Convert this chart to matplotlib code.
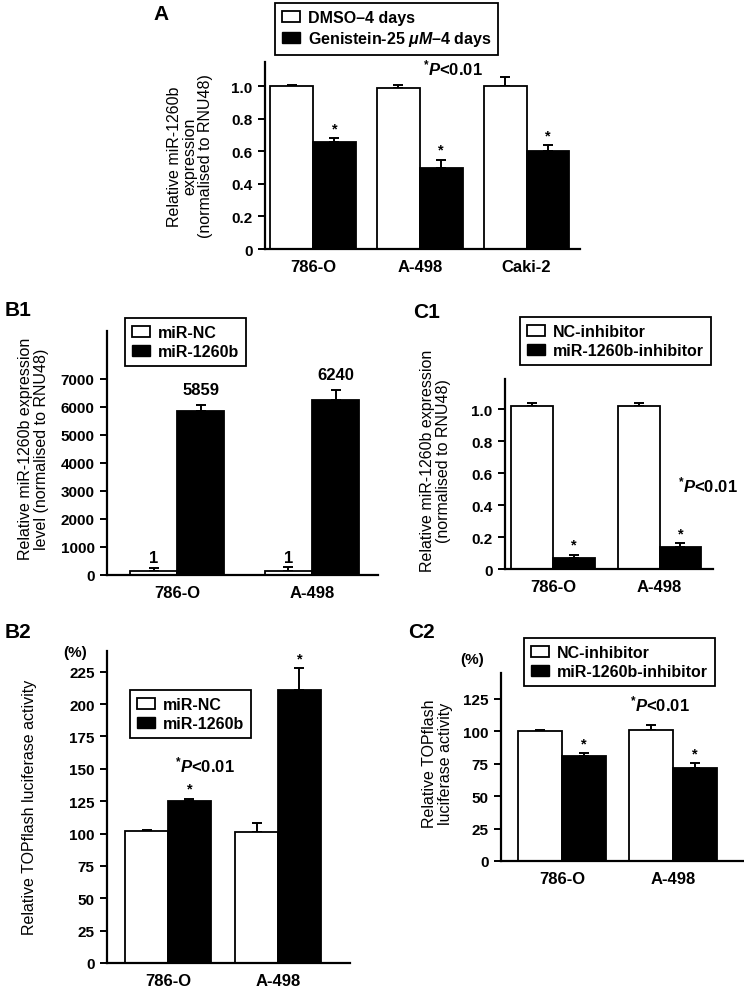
import matplotlib
matplotlib.use('Agg')
import matplotlib.pyplot as plt
import numpy as np
from matplotlib.patches import Patch

plt.rcParams['font.family'] = ['Liberation Sans', 'DejaVu Sans']
plt.rcParams['mathtext.fontset'] = 'custom'
plt.rcParams['mathtext.rm'] = 'Liberation Sans:bold'
plt.rcParams['mathtext.it'] = 'Liberation Sans:italic:bold'
plt.rcParams['font.size'] = 10

# ---- data ----
cells3 = ['786-O', 'A-498', 'Caki-2']
cells2 = ['786-O', 'A-498']

a_dmso = [1.00, 0.99, 1.00]
a_dmso_err = [0.01, 0.02, 0.06]
a_gen = [0.66, 0.50, 0.60]
a_gen_err = [0.02, 0.05, 0.04]

b1_nc = [130, 130]
b1_nc_err = [130, 140]
b1_mir = [5859, 6240]
b1_mir_err = [190, 350]
b1_nc_labels = ['1', '1']
b1_mir_labels = ['5859', '6240']

c1_nc = [1.02, 1.02]
c1_nc_err = [0.02, 0.02]
c1_inh = [0.07, 0.14]
c1_inh_err = [0.02, 0.02]

b2_nc = [102, 101]
b2_nc_err = [1, 7]
b2_mir = [125, 211]
b2_mir_err = [2, 17]

c2_nc = [100, 101]
c2_nc_err = [1, 4]
c2_inh = [81, 72]
c2_inh_err = [2, 3.5]

W, H = 744, 987
YTICK_FS = 11
XTICK_FS = 12
LAB_FS = 11.5
LEG_FS = 11.5
P_FS = 12


def px_axes(fig, left, right, top, bottom):
    return fig.add_axes([left / W, 1 - bottom / H, (right - left) / W, (bottom - top) / H])


def draw_bars(ax, white, white_err, black, black_err, width, stars=True):
    x = np.arange(len(white))
    ax.bar(x - width / 2, white, width, color='white', edgecolor='black', lw=1.3, zorder=2)
    ax.bar(x + width / 2, black, width, color='black', edgecolor='black', lw=1.3, zorder=2)
    ax.errorbar(x - width / 2, white, yerr=[np.zeros(len(white)), white_err], fmt='none',
                ecolor='black', elinewidth=1.4, capsize=3.5, capthick=1.4, zorder=1)
    ax.errorbar(x + width / 2, black, yerr=[np.zeros(len(black)), black_err], fmt='none',
                ecolor='black', elinewidth=1.4, capsize=3.5, capthick=1.4, zorder=1)
    if stars:
        for xi, v, e in zip(x, black, black_err):
            ax.annotate('*', (xi + width / 2, v + e), xytext=(0, 2), textcoords='offset points',
                        ha='center', va='bottom', fontsize=10.5, fontweight='bold')
    ax.set_xticks(x)
    ax.tick_params(axis='x', length=0, labelsize=XTICK_FS, pad=7)
    ax.tick_params(axis='y', length=5, width=1.4, labelsize=YTICK_FS, direction='out', pad=4)
    for s in ['top', 'right']:
        ax.spines[s].set_visible(False)
    for s in ['left', 'bottom']:
        ax.spines[s].set_linewidth(1.6)
    return x


def add_legend(ax, labels, x0, y0):
    handles = [Patch(facecolor='white', edgecolor='black', lw=1.3),
               Patch(facecolor='black', edgecolor='black')]
    leg = ax.legend(handles, labels, loc='upper left', bbox_to_anchor=(x0 / W, 1 - y0 / H),
                    bbox_transform=ax.figure.transFigure, fancybox=False, edgecolor='black',
                    framealpha=1, handlelength=1.1, handleheight=0.75,
                    handletextpad=0.5, labelspacing=0.25, borderpad=0.45, borderaxespad=0,
                    prop={'size': LEG_FS, 'weight': 'bold'})
    leg.get_frame().set_linewidth(1.3)
    return leg


def set_ticklabels(ax, xlabels, yticks, ylabels):
    ax.set_xticklabels(xlabels, fontweight='bold')
    ax.set_yticks(yticks)
    ax.set_yticklabels(ylabels, fontweight='bold')


fig = plt.figure(figsize=(W / 100, H / 100), dpi=100)
ptxt = r'$^{*}\mathit{P}$<0.01'

# ---- A ----
ax1 = px_axes(fig, 265, 580, 63, 250)
bw = 0.4
draw_bars(ax1, a_dmso, a_dmso_err, a_gen, a_gen_err, bw)
ax1.set_xlim(-0.45, 2.5)
ax1.set_ylim(0, 1.15)
set_ticklabels(ax1, cells3, [0, 0.2, 0.4, 0.6, 0.8, 1.0], ['0', '0.2', '0.4', '0.6', '0.8', '1.0'])
ax1.set_ylabel('Relative miR-1260b\nexpression\n(normalised to RNU48)', fontsize=LAB_FS, linespacing=1.05)
ax1.yaxis.set_label_coords(-0.165, 0.5)
add_legend(ax1, ['DMSO\u20134 days', 'Genistein-25 $\\mu\\mathit{M}$\u20134 days'], 275, 4)
fig.text(423 / W, 1 - 68 / H, ptxt, fontsize=P_FS, fontweight='bold', ha='left', va='center')
fig.text(153 / W, 1 - 14 / H, 'A', fontsize=15, fontweight='bold', ha='left', va='center')

# ---- B1 ----
ax2 = px_axes(fig, 107, 378, 332, 576)
bw = 0.35
x = draw_bars(ax2, b1_nc, b1_nc_err, b1_mir, b1_mir_err, bw, stars=False)
for xi, v, e, lab in zip(x, b1_nc, b1_nc_err, b1_nc_labels):
    ax2.annotate(lab, (xi - bw / 2, v + e), xytext=(0, 2), textcoords='offset points',
                 ha='center', va='bottom', fontsize=12, fontweight='bold')
for xi, v, e, lab in zip(x, b1_mir, b1_mir_err, b1_mir_labels):
    ax2.annotate(lab, (xi + bw / 2, v + e), xytext=(0, 6), textcoords='offset points',
                 ha='center', va='bottom', fontsize=12, fontweight='bold')
ax2.set_xlim(-0.52, 1.49)
ax2.set_ylim(0, 8700)
set_ticklabels(ax2, cells2, np.arange(0, 7001, 1000), [str(v) for v in range(0, 7001, 1000)])
ax2.set_ylabel('Relative miR-1260b expression\nlevel (normalised to RNU48)', fontsize=LAB_FS, linespacing=1.05)
ax2.yaxis.set_label_coords(-0.215, 0.52)
add_legend(ax2, ['miR-NC', 'miR-1260b'], 125, 319)
fig.text(5 / W, 1 - 310 / H, 'B1', fontsize=15, fontweight='bold', ha='left', va='center')

# ---- C1 ----
ax3 = px_axes(fig, 505, 713, 380, 570)
bw = 0.39
draw_bars(ax3, c1_nc, c1_nc_err, c1_inh, c1_inh_err, bw)
ax3.set_xlim(-0.45, 1.5)
ax3.set_ylim(0, 1.19)
set_ticklabels(ax3, cells2, [0, 0.2, 0.4, 0.6, 0.8, 1.0], ['0', '0.2', '0.4', '0.6', '0.8', '1.0'])
ax3.set_ylabel('Relative miR-1260b expression\n(normalised to RNU48)', fontsize=LAB_FS, linespacing=1.05)
ax3.yaxis.set_label_coords(-0.26, 0.574)
add_legend(ax3, ['NC-inhibitor', 'miR-1260b-inhibitor'], 520, 318)
fig.text(678 / W, 1 - 485 / H, ptxt, fontsize=P_FS, fontweight='bold', ha='left', va='center')
fig.text(413 / W, 1 - 312 / H, 'C1', fontsize=15, fontweight='bold', ha='left', va='center')

# ---- B2 ----
ax4 = px_axes(fig, 107, 350, 652, 964)
bw = 0.39
draw_bars(ax4, b2_nc, b2_nc_err, b2_mir, b2_mir_err, bw)
ax4.set_xlim(-0.555, 1.655)
ax4.set_ylim(0, 241)
set_ticklabels(ax4, cells2, np.arange(0, 226, 25), [str(v) for v in range(0, 226, 25)])
ax4.set_ylabel('Relative TOPflash luciferase activity', fontsize=LAB_FS)
ax4.yaxis.set_label_coords(-0.29, 0.503)
add_legend(ax4, ['miR-NC', 'miR-1260b'], 130, 691)
fig.text(175 / W, 1 - 765 / H, ptxt, fontsize=P_FS, fontweight='bold', ha='left', va='center')
fig.text(75 / W, 1 - 653 / H, '(%)', fontsize=11, fontweight='bold', ha='center', va='center')
fig.text(5 / W, 1 - 632 / H, 'B2', fontsize=15, fontweight='bold', ha='left', va='center')

# ---- C2 ----
ax5 = px_axes(fig, 501, 743, 674, 862)
bw = 0.4
draw_bars(ax5, c2_nc, c2_nc_err, c2_inh, c2_inh_err, bw)
ax5.set_xlim(-0.55, 1.63)
ax5.set_ylim(0, 145)
set_ticklabels(ax5, cells2, np.arange(0, 126, 25), [str(v) for v in range(0, 126, 25)])
ax5.set_ylabel('Relative TOPflash\nluciferase activity', fontsize=LAB_FS, linespacing=1.05)
ax5.yaxis.set_label_coords(-0.2, 0.52)
add_legend(ax5, ['NC-inhibitor', 'miR-1260b-inhibitor'], 524, 639)
fig.text(630 / W, 1 - 704 / H, ptxt, fontsize=P_FS, fontweight='bold', ha='left', va='center')
fig.text(472 / W, 1 - 660 / H, '(%)', fontsize=11, fontweight='bold', ha='center', va='center')
fig.text(408 / W, 1 - 633 / H, 'C2', fontsize=15, fontweight='bold', ha='left', va='center')

fig.savefig('out.png', dpi=100)
